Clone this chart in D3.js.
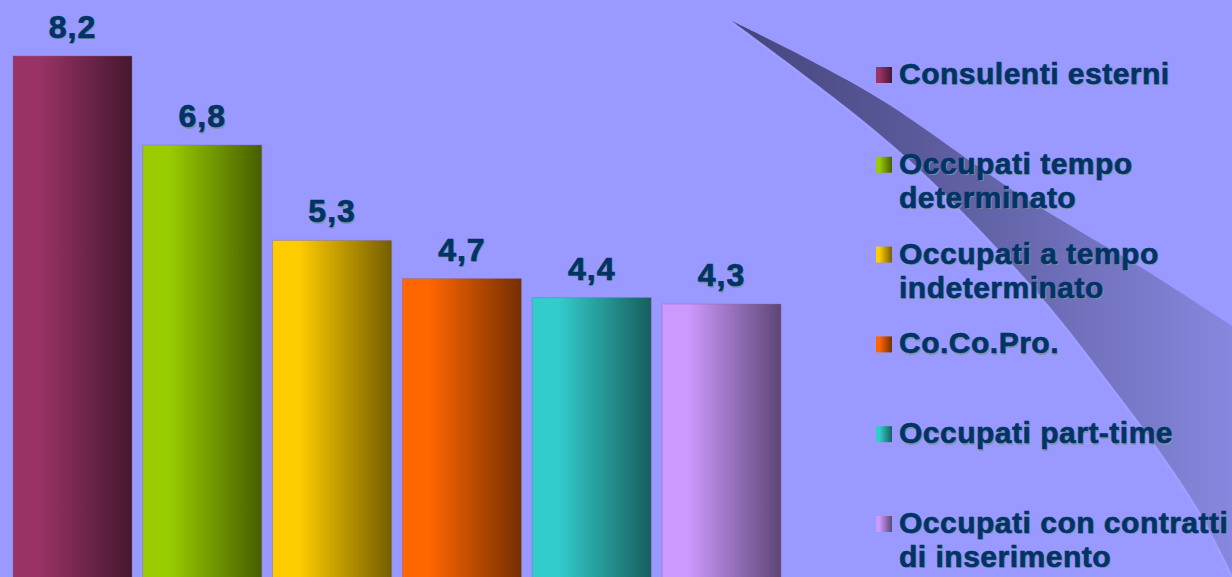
<!DOCTYPE html>
<html>
<head>
<meta charset="utf-8">
<script src="https://cdn.jsdelivr.net/npm/d3@7"></script>
<style>
  html, body { margin: 0; padding: 0; background: #9999FF; }
  svg { display: block; }
</style>
</head>
<body>
<svg id="chart" width="1232" height="577"></svg>
<script>
// ---- data ----
const categories = [
  "Consulenti esterni",
  "Occupati tempo determinato",
  "Occupati a tempo indeterminato",
  "Co.Co.Pro.",
  "Occupati part-time",
  "Occupati con contratti di inserimento"
];
const values = [8.2, 6.8, 5.3, 4.7, 4.4, 4.3];
const valueLabels = ["8,2", "6,8", "5,3", "4,7", "4,4", "4,3"];
const legendLines = [
  ["Consulenti esterni"],
  ["Occupati tempo", "determinato"],
  ["Occupati a tempo", "indeterminato"],
  ["Co.Co.Pro."],
  ["Occupati part-time"],
  ["Occupati con contratti", "di inserimento"]
];
const colors = ["#993366", "#99CC00", "#FFCC00", "#FF6600", "#33CCCC", "#CC99FF"];

// ---- layout ----
const W = 1232, H = 577;
const svg = d3.select("#chart");
const defs = svg.append("defs");

svg.append("rect").attr("width", W).attr("height", H).attr("fill", "#9999FF");

// decorative swoosh
const swUpper = [[732,21],[800,55],[883,101],[1017,193],[1150,273],[1232,326]];
const swLower = [[732,21],[850,110],[917,167],[983,233],[1050,307],[1117,393],[1157,447],[1200,512],[1236,582]];
const swGrad = defs.append("linearGradient").attr("id", "swg")
  .attr("gradientUnits", "userSpaceOnUse").attr("x1", 732).attr("y1", 0).attr("x2", 1232).attr("y2", 0);
swGrad.append("stop").attr("offset", 0).attr("stop-color", "#44447c");
swGrad.append("stop").attr("offset", 0.5).attr("stop-color", "#6262a6");
swGrad.append("stop").attr("offset", 1).attr("stop-color", "#8787df");
const lineGen = d3.line().curve(d3.curveCatmullRom.alpha(0.5));
const upperD = lineGen(swUpper);
const lowerRev = lineGen(swLower.slice().reverse());
svg.append("path")
  .attr("d", upperD + "L1240,326L1240,585" + "L" + lowerRev.slice(1) + "Z")
  .attr("fill", "url(#swg)");
svg.append("path")
  .attr("d", lineGen(swLower.map(p => [p[0] - 1.5, p[1] + 1])))
  .attr("fill", "none").attr("stroke", "#b4b4ff").attr("stroke-width", 1).attr("opacity", 0.5);

// bar gradients
colors.forEach((c, i) => {
  const g = defs.append("linearGradient").attr("id", "bg" + i)
    .attr("x1", 0).attr("y1", 0).attr("x2", 1).attr("y2", 0);
  const base = d3.rgb(c);
  const dark = d3.rgb(base.r * 0.46, base.g * 0.46, base.b * 0.46);
  g.append("stop").attr("offset", 0).attr("stop-color", base.formatHex());
  g.append("stop").attr("offset", 0.22).attr("stop-color", base.formatHex());
  g.append("stop").attr("offset", 1).attr("stop-color", dark.formatHex());
});

const x = d3.scaleBand().domain(categories).range([7.6, 786.4])
  .paddingInner(0.083).paddingOuter(0.0415);
const y = d3.scaleLinear().domain([0, 9.08]).range([577.5, 0]);

svg.append("g").selectAll("rect").data(values).join("rect")
  .attr("x", (d, i) => x(categories[i]))
  .attr("y", d => y(d))
  .attr("width", x.bandwidth())
  .attr("height", d => y(0) - y(d) + 2)
  .attr("fill", (d, i) => `url(#bg${i})`)
  .attr("stroke", "#7d6aa8").attr("stroke-width", 1).attr("stroke-opacity", 0.4);

const font = "'Liberation Sans', Arial, sans-serif";

// value labels
const lbl = svg.append("g").attr("font-family", font).attr("font-weight", "bold")
  .attr("font-size", 32).attr("letter-spacing", 1).attr("text-anchor", "middle");
lbl.selectAll("text.sh").data(values).join("text").attr("class", "sh")
  .attr("x", (d, i) => x(categories[i]) + x.bandwidth() / 2 + 1.2)
  .attr("y", d => y(d) - 18 + 1.5)
  .attr("fill", "#7f93a6")
  .text((d, i) => valueLabels[i]);
lbl.selectAll("text.mn").data(values).join("text").attr("class", "mn")
  .attr("x", (d, i) => x(categories[i]) + x.bandwidth() / 2)
  .attr("y", d => y(d) - 18)
  .attr("fill", "#003366").attr("stroke", "#003366").attr("stroke-width", 0.7)
  .text((d, i) => valueLabels[i]);

// legend
const legY = d3.scaleLinear().domain([0, categories.length - 1]).range([84, 533]);
const lineH = 34;
const leg = svg.append("g").attr("font-family", font).attr("font-weight", "bold")
  .attr("font-size", 30).attr("letter-spacing", 0.5);
const items = leg.selectAll("g").data(categories).join("g")
  .attr("transform", (d, i) => `translate(0,${legY(i)})`);
items.append("rect")
  .attr("x", 876).attr("y", -17).attr("width", 16).attr("height", 16)
  .attr("fill", (d, i) => `url(#bg${i})`);
items.each(function(d, i) {
  const g = d3.select(this);
  legendLines[i].forEach((t, j) => {
    g.append("text").attr("x", 900.2).attr("y", j * lineH + 1.3).attr("fill", "#7f93a6").text(t);
    g.append("text").attr("x", 899).attr("y", j * lineH).attr("fill", "#003366")
      .attr("stroke", "#003366").attr("stroke-width", 0.6).text(t);
  });
});
</script>
</body>
</html>
